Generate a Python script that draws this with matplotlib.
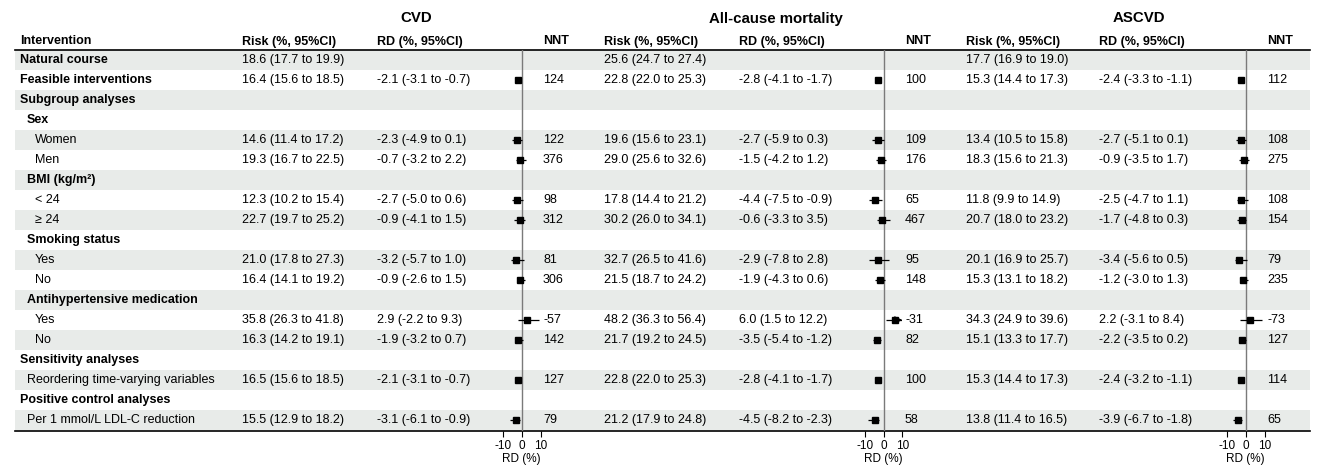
import numpy as np
import matplotlib.pyplot as plt

plt.rcParams['font.family'] = ['Liberation Sans', 'DejaVu Sans']
plt.rcParams['axes.unicode_minus'] = False

# row labels of the table
labels = ['Natural course', 'Feasible interventions', 'Subgroup analyses',
          'Sex', 'Women', 'Men',
          'BMI (kg/m²)', '< 24', '≥ 24',
          'Smoking status', 'Yes', 'No',
          'Antihypertensive medication', 'Yes', 'No',
          'Sensitivity analyses', 'Reordering time-varying variables',
          'Positive control analyses', 'Per 1 mmol/L LDL-C reduction']
levels = [0, 0, 0, 1, 2, 2, 1, 2, 2, 1, 2, 2, 1, 2, 2, 0, 1, 0, 1]
bold = [1, 1, 1, 1, 0, 0, 1, 0, 0, 1, 0, 0, 1, 0, 0, 1, 0, 1, 0]

# rows that carry numbers
risk_rows = [0, 1, 4, 5, 7, 8, 10, 11, 13, 14, 16, 18]
rd_rows = risk_rows[1:]

outcomes = ['CVD', 'All-cause mortality', 'ASCVD']

cvd_risk = [18.6, 16.4, 14.6, 19.3, 12.3, 22.7, 21.0, 16.4, 35.8, 16.3, 16.5, 15.5]
cvd_risk_lo = [17.7, 15.6, 11.4, 16.7, 10.2, 19.7, 17.8, 14.1, 26.3, 14.2, 15.6, 12.9]
cvd_risk_hi = [19.9, 18.5, 17.2, 22.5, 15.4, 25.2, 27.3, 19.2, 41.8, 19.1, 18.5, 18.2]
cvd_rd = [-2.1, -2.3, -0.7, -2.7, -0.9, -3.2, -0.9, 2.9, -1.9, -2.1, -3.1]
cvd_rd_lo = [-3.1, -4.9, -3.2, -5.0, -4.1, -5.7, -2.6, -2.2, -3.2, -3.1, -6.1]
cvd_rd_hi = [-0.7, 0.1, 2.2, 0.6, 1.5, 1.0, 1.5, 9.3, 0.7, -0.7, -0.9]
cvd_nnt = [124, 122, 376, 98, 312, 81, 306, -57, 142, 127, 79]

acm_risk = [25.6, 22.8, 19.6, 29.0, 17.8, 30.2, 32.7, 21.5, 48.2, 21.7, 22.8, 21.2]
acm_risk_lo = [24.7, 22.0, 15.6, 25.6, 14.4, 26.0, 26.5, 18.7, 36.3, 19.2, 22.0, 17.9]
acm_risk_hi = [27.4, 25.3, 23.1, 32.6, 21.2, 34.1, 41.6, 24.2, 56.4, 24.5, 25.3, 24.8]
acm_rd = [-2.8, -2.7, -1.5, -4.4, -0.6, -2.9, -1.9, 6.0, -3.5, -2.8, -4.5]
acm_rd_lo = [-4.1, -5.9, -4.2, -7.5, -3.3, -7.8, -4.3, 1.5, -5.4, -4.1, -8.2]
acm_rd_hi = [-1.7, 0.3, 1.2, -0.9, 3.5, 2.8, 0.6, 12.2, -1.2, -1.7, -2.3]
acm_nnt = [100, 109, 176, 65, 467, 95, 148, -31, 82, 100, 58]

ascvd_risk = [17.7, 15.3, 13.4, 18.3, 11.8, 20.7, 20.1, 15.3, 34.3, 15.1, 15.3, 13.8]
ascvd_risk_lo = [16.9, 14.4, 10.5, 15.6, 9.9, 18.0, 16.9, 13.1, 24.9, 13.3, 14.4, 11.4]
ascvd_risk_hi = [19.0, 17.3, 15.8, 21.3, 14.9, 23.2, 25.7, 18.2, 39.6, 17.7, 17.3, 16.5]
ascvd_rd = [-2.4, -2.7, -0.9, -2.5, -1.7, -3.4, -1.2, 2.2, -2.2, -2.4, -3.9]
ascvd_rd_lo = [-3.3, -5.1, -3.5, -4.7, -4.8, -5.6, -3.0, -3.1, -3.5, -3.2, -6.7]
ascvd_rd_hi = [-1.1, 0.1, 1.7, 1.1, 0.3, 0.5, 1.3, 8.4, 0.2, -1.1, -1.8]
ascvd_nnt = [112, 108, 275, 108, 154, 79, 235, -73, 127, 114, 65]

panels = [
    (cvd_risk, cvd_risk_lo, cvd_risk_hi, cvd_rd, cvd_rd_lo, cvd_rd_hi, cvd_nnt),
    (acm_risk, acm_risk_lo, acm_risk_hi, acm_rd, acm_rd_lo, acm_rd_hi, acm_nnt),
    (ascvd_risk, ascvd_risk_lo, ascvd_risk_hi, ascvd_rd, ascvd_rd_lo, ascvd_rd_hi, ascvd_nnt),
]

# layout in pixels
W, H = 1324, 467
row_top, row_h = 50, 20
bottom = 431
nrows = len(labels)
shade = '#e8ebe9'
fs = 9

fig = plt.figure(figsize=(W / 100, H / 100), dpi=100)
ax = fig.add_axes([0, 0, 1, 1])
ax.set_xlim(0, W)
ax.set_ylim(H, 0)
ax.axis('off')

yc = [row_top + row_h * (i + 0.5) for i in range(nrows)]

# striped rows
for i in range(0, nrows, 2):
    ax.barh(yc[i], 1295, left=15, height=row_h, color=shade, lw=0)

ax.plot([15, 1310], [row_top, row_top], color='black', lw=1.2)
ax.plot([15, 1310], [bottom, bottom], color='black', lw=1.2)

# first column
ax.text(20, 41.5, 'Intervention', fontsize=fs, fontweight='bold', va='center')
indent = [20, 27, 35]
for i, lab in enumerate(labels):
    ax.text(indent[levels[i]], yc[i], lab, fontsize=fs, va='center',
            fontweight='bold' if bold[i] else 'normal')

risk_x = [242, 604, 966]
rd_x = [377, 739, 1099]
nnt_x = [543, 905, 1267]
title_x = [416, 776, 1139]
zero_x = [521.7, 883.5, 1245.7]
scale = 1.89  # px per RD unit
xmin, xmax = -12, 10

for k, (risk, rlo, rhi, rd, dlo, dhi, nnt) in enumerate(panels):
    ax.text(title_x[k], 18.5, outcomes[k], fontsize=10.8, fontweight='bold',
            ha='center', va='center')
    ax.text(risk_x[k], 41.5, 'Risk (%, 95%CI)', fontsize=fs, fontweight='bold', va='center')
    ax.text(rd_x[k], 41.5, 'RD (%, 95%CI)', fontsize=fs, fontweight='bold', va='center')
    ax.text(nnt_x[k], 41.5, 'NNT', fontsize=fs, fontweight='bold', va='center')

    for j, r in enumerate(risk_rows):
        ax.text(risk_x[k], yc[r], f'{risk[j]:.1f} ({rlo[j]:.1f} to {rhi[j]:.1f})',
                fontsize=fs, va='center')
    for j, r in enumerate(rd_rows):
        ax.text(rd_x[k], yc[r], f'{rd[j]:.1f} ({dlo[j]:.1f} to {dhi[j]:.1f})',
                fontsize=fs, va='center')
        ax.text(nnt_x[k], yc[r], f'{nnt[j]}', fontsize=fs, va='center')

    # forest plot
    left = zero_x[k] + xmin * scale
    ah = bottom - row_top
    fa = fig.add_axes([left / W, 1 - bottom / H, (xmax - xmin) * scale / W, ah / H])
    fa.set_xlim(xmin, xmax)
    fa.set_ylim(ah / row_h - 0.5, -0.5)
    fa.patch.set_alpha(0)
    for sp in fa.spines.values():
        sp.set_visible(False)
    fa.set_yticks([])
    fa.set_xticks([-10, 0, 10])
    fa.tick_params(axis='x', length=4.3, width=0.8, pad=2.5, labelsize=8.5)
    fa.set_xlabel('RD (%)', fontsize=8.5)
    fa.xaxis.set_label_coords((0 - xmin) / (xmax - xmin), -(453 - bottom) / ah)
    fa.axvline(0, color='#7a7a7a', lw=1.0, zorder=1)

    rows = np.array(rd_rows)
    lo = np.clip(dlo, xmin, xmax)
    hi = np.clip(dhi, xmin, xmax)
    fa.hlines(rows, lo, hi, color='black', lw=0.9, zorder=2)
    fa.plot(rd, rows, 's', ms=4.5, color='black', zorder=3)
    for j, r in enumerate(rd_rows):
        if dhi[j] > xmax:
            fa.annotate('', xy=(xmax, r), xytext=(rd[j], r),
                        arrowprops=dict(arrowstyle='-|>,head_length=0.45,head_width=0.22',
                                        color='black', lw=0.9, shrinkA=0, shrinkB=0,
                                        mutation_scale=10))
        if dlo[j] < xmin:
            fa.annotate('', xy=(xmin, r), xytext=(rd[j], r),
                        arrowprops=dict(arrowstyle='-|>,head_length=0.45,head_width=0.22',
                                        color='black', lw=0.9, shrinkA=0, shrinkB=0,
                                        mutation_scale=10))

fig.savefig('out.png', dpi=100)
